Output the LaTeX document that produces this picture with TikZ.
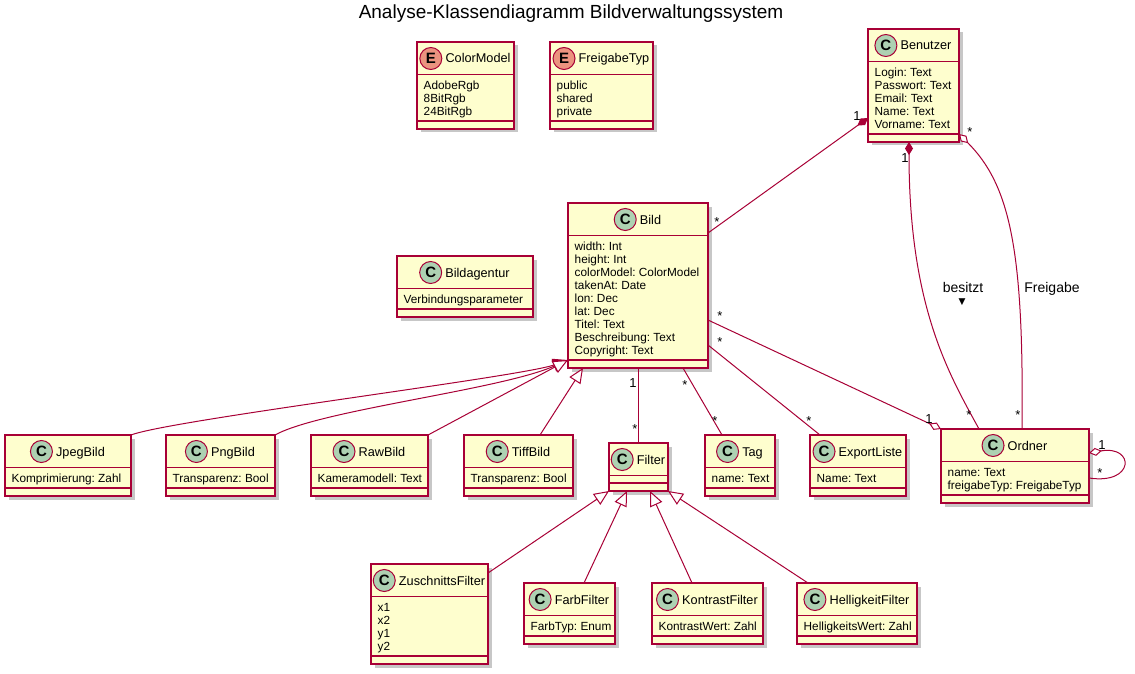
\documentclass[tikz,border=0pt]{standalone}
\usepackage{fontspec}
\setmainfont{Liberation Sans}
\newfontfamily\symbolfont{DejaVu Sans}
\usetikzlibrary{calc, arrows.meta, positioning, shadows}
\frenchspacing

\definecolor{umlrot}{HTML}{A80036}
\definecolor{umlgelb}{HTML}{FEFECE}
\definecolor{umlgruen}{HTML}{ADD1B2}
\definecolor{umlorange}{HTML}{EB937F}

\tikzset{
  klassebox/.style={draw=umlrot, fill=umlgelb, line width=1.5pt, anchor=north west, inner sep=0pt, outer sep=0pt,
    drop shadow={shadow xshift=3.5pt, shadow yshift=-3.5pt, fill=black, opacity=0.22}},
  rahmen/.style={draw=umlrot, line width=1.5pt},
  titel/.style={inner sep=0pt, text height=9pt, text depth=0pt, font=\fontsize{12.7}{14}\selectfont},
  feld/.style={anchor=west, inner sep=0pt, text height=8.4pt, text depth=0pt, font=\fontsize{11.8}{13}\selectfont},
  kreisC/.style={circle, draw=umlrot, line width=1pt, fill=umlgruen, minimum size=22pt, inner sep=0pt,
    font=\fontsize{15}{15}\selectfont\bfseries},
  kreisE/.style={kreisC, fill=umlorange},
  verbindung/.style={draw=umlrot, line width=1pt},
  mult/.style={inner sep=0pt, text height=9.3pt, text depth=0pt, font=\fontsize{13}{14}\selectfont},
  stern/.style={mult, yshift=-2.8pt},
  beschriftung/.style={inner sep=0pt, text height=10pt, text depth=0pt, font=\fontsize{14}{16}\selectfont},
  komposition/.style={-{Diamond[length=13pt, width=8pt, fill=umlrot]}},
  aggregation/.style={-{Diamond[length=13pt, width=8pt, fill=white]}},
  vererbung/.style={-{Triangle[length=15pt, width=13pt, fill=white]}},
}

% #1 Buchstabe, #2 Name, #3 x, #4 y, #5 Breite, #6 Anzahl Felder, #7 Titel, #8 Felder
\newcommand{\klasse}[8][C]{%
  \pgfmathsetmacro{\khoehe}{48+13*#6}
  \node [klassebox, minimum width=#5pt, minimum height=\khoehe pt] (#2) at (#3,#4) {};
  \draw [rahmen] ($(#2.north west)+(0,32.5)$) -- ($(#2.north east)+(0,32.5)$);
  \draw [rahmen] ($(#2.south west)+(0,-8)$) -- ($(#2.south east)+(0,-8)$);
  \node [titel] (#2-name) at ($(#2.north)+(12.5,16.5)$) {#7};
  \node [kreis#1, left=3pt of #2-name] (#2-kreis) {#1};
  \foreach \f [count=\i] in {#8} {
    \node [feld] (#2-f\i) at ($(#2.north west)+(6.5,30.5+13*\i)$) {\f};
  }
}

\begin{document}
\begin{tikzpicture}[x=1pt,y=-1pt]
        \fill [white] (0,0) rectangle (1135,674);
        \useasboundingbox (0,0) rectangle (1135,674);

        \node [font=\fontsize{19}{22}\selectfont, inner sep=0pt, text height=13.6pt, text depth=0pt] (diagrammtitel) at (571,12) {Analyse-Klassendiagramm Bildverwaltungssystem};

        \klasse[E]{colormodel}{417}{42}{97}{3}{ColorModel}{AdobeRgb,8BitRgb,24BitRgb}
        \klasse[E]{freigabetyp}{550}{42}{103}{3}{FreigabeTyp}{public,shared,private}
        \klasse{benutzer}{868}{29}{91}{5}{Benutzer}{Login: Text,Passwort: Text,Email: Text,Name: Text,Vorname: Text}
        \klasse{bild}{568}{203}{140}{9}{Bild}{width: Int,height: Int,colorModel: ColorModel,takenAt: Date,lon: Dec,lat: Dec,Titel: Text,Beschreibung: Text,Copyright: Text}
        \klasse{bildagentur}{397}{256}{136}{1}{Bildagentur}{Verbindungsparameter}

        \klasse{jpegbild}{5}{435}{126}{1}{JpegBild}{Komprimierung: Zahl}
        \klasse{pngbild}{166}{435}{109}{1}{PngBild}{Transparenz: Bool}
        \klasse{rawbild}{311}{435}{117}{1}{RawBild}{Kameramodell: Text}
        \klasse{tiffbild}{464}{435}{109}{1}{TiffBild}{Transparenz: Bool}
        \klasse{filter}{609}{443}{59}{0}{Filter}{}
        \klasse{tag}{705}{435}{70}{1}{Tag}{name: Text}
        \klasse{exportliste}{810}{435}{96}{1}{ExportListe}{Name: Text}
        \klasse{ordner}{941}{429}{148}{2}{Ordner}{name: Text,freigabeTyp: FreigabeTyp}

        \klasse{zuschnittsfilter}{371}{564}{117}{4}{ZuschnittsFilter}{x1,x2,y1,y2}
        \klasse{farbfilter}{524}{583}{91}{1}{FarbFilter}{FarbTyp: Enum}
        \klasse{kontrastfilter}{652}{583}{111}{1}{KontrastFilter}{KontrastWert: Zahl}
        \klasse{helligkeitfilter}{797}{583}{120}{1}{HelligkeitFilter}{HelligkeitsWert: Zahl}

        % Assoziationen
        \draw [verbindung, komposition] ($(bild.north east)+(0,30)$) -- ($(benutzer.north west)+(0,89)$);
        \draw [verbindung, {Diamond[length=13pt, width=8pt, fill=umlrot]}-] ($(benutzer.south west)+(41,0)$) .. controls +(0,165) and +(-30,-55) .. ($(ordner.north west)+(38,0)$);
        \draw [verbindung, {Diamond[length=13pt, width=8pt, fill=white]}-] ($(benutzer.south east)+(0,-8)$) .. controls +(51,51) and +(2,-179) .. ($(ordner.north west)+(81,0)$);
        \draw [verbindung, aggregation] ($(bild.north east)+(0,117)$) -- (ordner.north west);
        \draw [verbindung] ($(bild.north east)+(0,142)$) -- ($(exportliste.north west)+(10,0)$);
        \draw [verbindung] ($(bild.south west)+(115,0)$) -- ($(tag.north west)+(17,0)$);
        \draw [verbindung] (filter.north |- bild.south) -- (filter.north);
        \draw [verbindung, {Diamond[length=13pt, width=8pt, fill=white]}-] ($(ordner.north east)+(0,24)$) .. controls +(46,-8) and +(46,7) .. ($(ordner.north east)+(0,49)$);

        % Vererbung
        \draw [verbindung, vererbung] (jpegbild.north east) .. controls +(39,-15) and +(-48,17) .. ($(bild.south west)+(0,-8)$);
        \draw [verbindung, vererbung] (pngbild.north east) .. controls +(45,-25) and +(-68,30) .. ($(bild.south west)+(0,-8)$);
        \draw [verbindung, vererbung] (rawbild.north east) -- ($(bild.south west)+(0,-8)$);
        \draw [verbindung, vererbung] ($(tiffbild.north west)+(76,0)$) -- ($(bild.south west)+(15,0)$);
        \draw [verbindung, vererbung] ($(zuschnittsfilter.north east)+(0,9)$) -- (filter.south west);
        \draw [verbindung, vererbung] ($(farbfilter.north west)+(60,0)$) -- ($(filter.south west)+(18,0)$);
        \draw [verbindung, vererbung] ($(kontrastfilter.north west)+(40,0)$) -- ($(filter.south west)+(41,0)$);
        \draw [verbindung, vererbung] ($(helligkeitfilter.north west)+(11,0)$) -- (filter.south east);

        % Multiplizitaeten
        \node [stern] (m-bild-oben) at (717,219) {*};
        \node [mult] (m-benutzer-links) at (857,116) {1};
        \node [mult] (m-benutzer-unten) at (905,158) {1};
        \node [stern] (m-ordner-besitzt) at (969,412) {*};
        \node [stern] (m-benutzer-rechts) at (970,129) {*};
        \node [stern] (m-ordner-freigabe) at (1018,412) {*};
        \node [stern] (m-bild-ordner) at (720,313) {*};
        \node [mult] (m-ordner-links) at (929,419) {1};
        \node [stern] (m-bild-export) at (720,339) {*};
        \node [stern] (m-export) at (809,418) {*};
        \node [stern] (m-bild-tag) at (685,382) {*};
        \node [stern] (m-tag) at (715,418) {*};
        \node [mult] (m-bild-filter) at (633,383) {1};
        \node [stern] (m-filter) at (635,426) {*};
        \node [mult] (m-ordner-rechts) at (1102,445) {1};
        \node [stern] (m-ordner-schleife) at (1100,470) {*};

        \node [beschriftung] (besitzt) at (963,287) {besitzt};
        \node [inner sep=0pt, font=\symbolfont\fontsize{9}{9}\selectfont] (besitzt-pfeil) at (962,302) {▼};
        \node [beschriftung] (freigabe) at (1052,287) {Freigabe};
\end{tikzpicture}
\end{document}
